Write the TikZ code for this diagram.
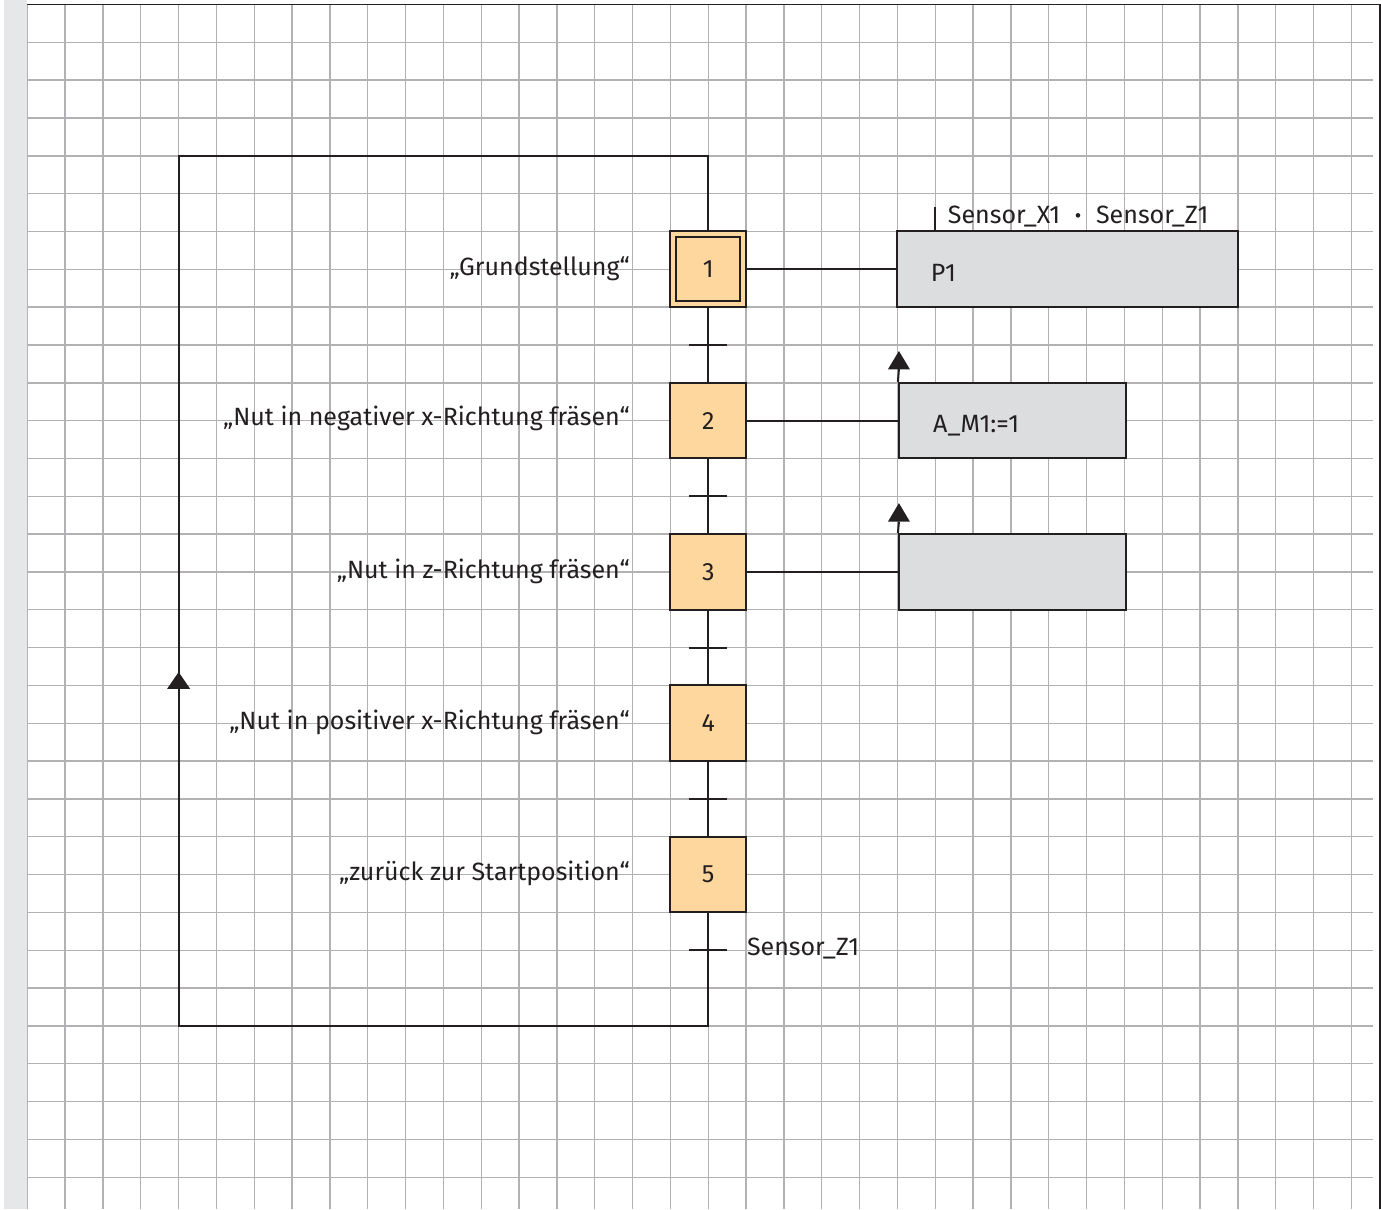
\documentclass[tikz,border=0pt]{standalone}
\usepackage{fontspec}
\setmainfont{Fira Sans}
\usetikzlibrary{calc}
\definecolor{gridgray}{RGB}{178,178,180}
\definecolor{stripgray}{RGB}{230,231,232}
\definecolor{ink}{RGB}{35,31,32}
\definecolor{stepfill}{RGB}{253,215,158}
\definecolor{actfill}{RGB}{220,221,223}
\tikzset{
  gridline/.style={draw=gridgray, line width=1.4pt},
  frameline/.style={draw=ink, line width=1.6pt},
  wire/.style={draw=ink, line width=2pt},
  stepbox/.style={draw=ink, fill=stepfill, line width=2pt, minimum size=75.66pt, inner sep=0pt,
    font=\fontsize{25}{28}\selectfont, text=ink},
  actbox/.style={draw=ink, fill=actfill, line width=2pt, minimum height=75.66pt, inner sep=0pt},
  label/.style={font=\fontsize{25}{29}\selectfont, text=ink, inner sep=0pt},
  tick/.style={draw=ink, line width=2pt},
}
\begin{document}
\begin{tikzpicture}[x=37.83pt, y=-37.83pt]
  % page and margins
  \useasboundingbox (-0.7217,-0.119) rectangle (35.7833,31.84);
  \fill[white] (-0.7217,-0.119) rectangle (35.7833,31.84);
  \fill[stripgray] (-0.6159,-0.119) rectangle (0,31.84);

  % squared paper
  \foreach \i in {0,...,35} \draw[gridline] (\i,0) -- (\i,31.84);
  \foreach \j in {1,...,31} \draw[gridline] (0,\j) -- (35.573,\j);
  \draw[frameline] (0,0) -- (35.76,0) -- (35.76,31.84);

  % steps
  \node[stepbox] (s1) at (18,7) {1};
  \node[stepbox] (s2) at (18,11) {2};
  \node[stepbox] (s3) at (18,15) {3};
  \node[stepbox] (s4) at (18,19) {4};
  \node[stepbox] (s5) at (18,23) {5};
  \draw[ink, line width=2pt] ($(s1.south west)+(6.7pt,6.7pt)$) rectangle ($(s1.north east)-(6.7pt,6.7pt)$);

  % step chain and transitions
  \draw[wire] (s1) -- (s2);
  \draw[wire] (s2) -- (s3);
  \draw[wire] (s3) -- (s4);
  \draw[wire] (s4) -- (s5);
  \foreach \y in {9,13,17,21,25} \draw[tick] (17.5,\y) -- (18.5,\y);

  % return loop
  \coordinate (lb) at (18,27);
  \coordinate (ll) at (4,27);
  \coordinate (lt) at (4,4);
  \coordinate (lr) at (18,4);
  \draw[wire] (s5.south) -- (lb) -- (ll) -- (lt) -- (lr) -- (s1.north);
  \fill[ink] (3.696,18.09) -- (4.304,18.09) -- (4,17.645) -- cycle;

  % step names
  \node[label, anchor=base east] (n1) at (15.93,7.16) {„Grundstellung“};
  \node[label, anchor=base east] (n2) at (15.93,11.14) {„Nut in negativer x-Richtung fräsen“};
  \node[label, anchor=base east] (n3) at (15.93,15.16) {„Nut in z-Richtung fräsen“};
  \node[label, anchor=base east] (n4) at (15.93,19.16) {„Nut in positiver x-Richtung fräsen“};
  \node[label, anchor=base east] (n5) at (15.93,23.16) {„zurück zur Startposition“};

  % actions
  \node[actbox, minimum width=340.47pt] (a1) at (27.5,7) {};
  \node[actbox, minimum width=226.98pt] (a2) at (26.04,11) {};
  \node[actbox, minimum width=226.98pt] (a3) at (26.04,15) {};
  \draw[wire] (s1.east) -- (a1.west);
  \draw[wire] (s2.east) -- (a2.west);
  \draw[wire] (s3.east) -- (a3.west);

  \node[label, anchor=base west] (t1) at (23.88,7.33) {P1};
  \node[label, anchor=base west] (t2) at (23.94,11.32) {A\_M1:=1};

  % qualifier of the P1 action
  \coordinate (q0) at (24,6);
  \coordinate (q1) at (24,5.345);
  \draw[wire] (q0) -- (q1);
  \node[label, anchor=base west] (qt) at (24.33,5.784) {Sensor\_X1\hspace{15pt}{\bfseries·}\hspace{15pt}Sensor\_Z1};

  % arrows on the actions of steps 2 and 3
  \coordinate (u2) at (23.04,9.64);
  \coordinate (u3) at (23.04,13.67);
  \draw[wire] (a2.north west) -- (u2);
  \draw[wire] (a3.north west) -- (u3);
  \fill[ink] (22.75,9.643) -- (23.33,9.643) -- (23.04,9.16) -- cycle;
  \fill[ink] (22.75,13.67) -- (23.33,13.67) -- (23.04,13.18) -- cycle;

  % final transition condition
  \node[label, anchor=base west] (c5) at (19.02,25.15) {Sensor\_Z1};
\end{tikzpicture}
\end{document}
